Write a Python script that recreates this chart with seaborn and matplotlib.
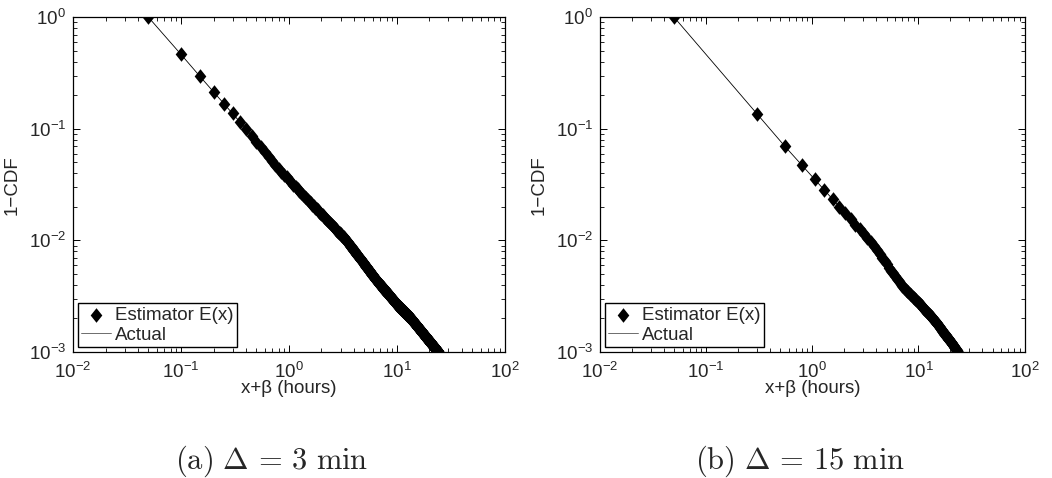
import numpy as np
import matplotlib
matplotlib.use("Agg")
import matplotlib.pyplot as plt
import seaborn as sns

# values (x+beta in hours, 1-CDF)
actual_x_a = [0.05, 0.1, 0.15, 0.4, 0.77, 3.4, 6.5, 9.9, 13.2, 24.1]
actual_y_a = [1.0, 0.465, 0.295, 0.1, 0.0455, 0.01, 0.00436, 0.0027, 0.00204, 0.001]
actual_x_b = [0.05, 0.3, 0.55, 3.48, 7.2, 10.3, 14.3, 23.7]
actual_y_b = [1.0, 0.137, 0.070, 0.01, 0.0038, 0.0027, 0.0019, 0.001]

beta_hours = 0.05
delta_hours = [3 / 60, 15 / 60]
captions = [r"$\mathrm{(a)}\ \Delta\,=\,3\ \mathrm{min}$",
            r"$\mathrm{(b)}\ \Delta\,=\,15\ \mathrm{min}$"]

sns.set_style("ticks")
plt.rcParams["font.family"] = ["Liberation Sans", "DejaVu Sans"]
plt.rcParams["mathtext.fontset"] = "custom"
plt.rcParams["mathtext.rm"] = "Liberation Sans"
plt.rcParams["mathtext.it"] = "Liberation Sans:italic"
plt.rcParams["mathtext.bf"] = "Liberation Sans:bold"
plt.rcParams["axes.edgecolor"] = "black"
plt.rcParams["axes.linewidth"] = 0.9

# MATLAB-like diamond
diamond = [(0, 1), (0.8, 0), (0, -1), (-0.8, 0), (0, 1)]

fig = plt.figure(figsize=(10.52, 4.78), dpi=100)
boxes = [[0.0694, 0.2636, 0.4106, 0.7002], [0.5703, 0.2636, 0.4037, 0.7002]]
caption_x = [0.258, 0.7605]

for i, (ax_x, ax_y) in enumerate([(actual_x_a, actual_y_a), (actual_x_b, actual_y_b)]):
    ax = fig.add_axes(boxes[i])
    ax.set_xscale("log")
    ax.set_yscale("log")

    # estimator sampled on the Delta grid, sitting on the actual curve
    est_x = np.arange(beta_hours, ax_x[-1] + 1e-9, delta_hours[i])
    est_y = 10 ** np.interp(np.log10(est_x), np.log10(ax_x), np.log10(ax_y))

    sns.scatterplot(x=est_x, y=est_y, ax=ax, marker=diamond, s=110,
                    color="black", edgecolor="black", linewidth=0,
                    label="Estimator E(x)", zorder=3)
    sns.lineplot(x=ax_x, y=ax_y, ax=ax, color="black", linewidth=0.6,
                 sort=False, estimator=None, label="Actual", zorder=4)

    ax.set_xlim(1e-2, 1e2)
    ax.set_ylim(1e-3, 1e0)
    ax.set_xlabel("x+\u03b2 (hours)", fontsize=13.5, labelpad=-1)
    ax.set_ylabel("1\u2212CDF", fontsize=13.5, labelpad=6)
    ax.tick_params(which="both", direction="in", top=True, right=True,
                   labelsize=13.5, color="black")
    ax.tick_params(which="major", length=5, width=0.7)
    ax.tick_params(axis="x", which="major", pad=7)
    ax.tick_params(axis="y", which="major", pad=5)
    ax.tick_params(which="minor", length=3, width=0.6)
    ax.set_xticks([1e-2, 1e-1, 1e0, 1e1, 1e2])
    ax.set_yticks([1e-3, 1e-2, 1e-1, 1e0])
    ax.minorticks_on()
    for s in ax.spines.values():
        s.set_visible(True)

    leg = ax.legend(loc="lower left", fontsize=13.5, fancybox=False,
                    framealpha=1, edgecolor="black", borderaxespad=0.25,
                    handlelength=1.6, handletextpad=0.2, borderpad=0.2,
                    labelspacing=0.15)
    leg.get_frame().set_linewidth(1.0)
    leg.legend_handles[1].set_color("#555555")

    fig.text(caption_x[i], 1 - 461 / 478, captions[i], math_fontfamily="cm",
             fontsize=22, ha="center", va="center")

fig.savefig("out.png", dpi=100)
